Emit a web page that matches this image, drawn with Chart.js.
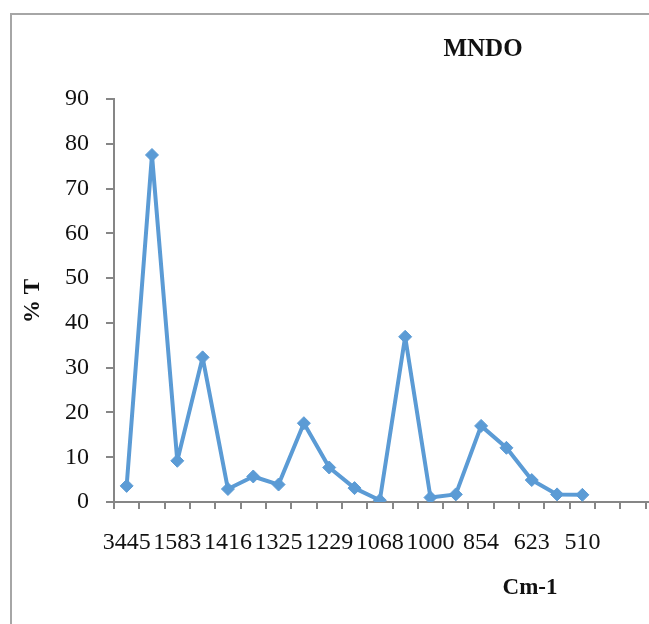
<!DOCTYPE html>
<html>
<head>
<meta charset="utf-8">
<title>MNDO</title>
<script src="https://cdn.jsdelivr.net/npm/chart.js@4/dist/chart.umd.min.js"></script>
<style>
	html, body { margin: 0; padding: 0; overflow: hidden; background: #fff; width: 649px; height: 624px; }
	.frame { position: absolute; left: 10px; top: 13px; width: 800px; height: 800px; border-left: 2px solid #a6a6a6; border-top: 2px solid #a6a6a6; }
	#irChart { position: absolute; left: 0; top: 0; }
</style>
</head>
<body>
<div class="frame"></div>
<canvas id="irChart" width="700" height="624"></canvas>
<script>
// wavenumbers, only every other one is printed on the axis
const wavenumbers = ['3445', '', '1583', '', '1416', '', '1325', '', '1229', '', '1068', '', '1000', '', '854', '', '623', '', '510', '', '', ''];
const transmittance = [3.6, 77.5, 9.2, 32.3, 2.9, 5.7, 3.9, 17.6, 7.7, 3.1, 0.4, 36.9, 1.0, 1.7, 17.0, 12.1, 4.9, 1.7, 1.6];
const yTicks = [0, 10, 20, 30, 40, 50, 60, 70, 80, 90];

const serif = '"Liberation Serif", "Times New Roman", serif';
const axisGrey = '#868686';
const lineBlue = '#5b9bd5';

// titles drawn by hand so they sit where the old spreadsheet put them
const titlesPlugin = {
	id: 'titles',
	afterDraw(chart) {
		const ctx = chart.ctx;
		ctx.save();
		ctx.fillStyle = '#111';
		ctx.textAlign = 'center';
		ctx.textBaseline = 'middle';
		ctx.font = 'bold 25px ' + serif;
		ctx.fillText('MNDO', 483, 50);
		ctx.font = 'bold 23px ' + serif;
		ctx.fillText('Cm-1', 530, 588);
		ctx.translate(33, 301);
		ctx.rotate(-Math.PI / 2);
		ctx.fillText('% T', 0, 0);
		ctx.restore();
	}
};

const ctx = document.getElementById('irChart').getContext('2d');
const chart = new Chart(ctx, {
	type: 'line',
	data: {
		labels: wavenumbers,
		datasets: [{
			data: transmittance,
			borderColor: lineBlue,
			backgroundColor: lineBlue,
			borderWidth: 4,
			borderJoinStyle: 'round',
			borderCapStyle: 'round',
			pointStyle: 'rectRot',
			pointRadius: 6.5,
			pointBorderWidth: 1,
			tension: 0
		}]
	},
	options: {
		responsive: false,
		animation: false,
		layout: {
			padding: { left: 0, right: 29, top: 99, bottom: 0 }
		},
		plugins: {
			legend: { display: false },
			tooltip: { enabled: false },
			title: { display: false }
		},
		scales: {
			x: {
				type: 'category',
				offset: true,
				grid: {
					offset: true,
					drawOnChartArea: false,
					drawTicks: true,
					tickLength: 7,
					color: axisGrey,
					lineWidth: 2
				},
				border: { display: true, color: axisGrey, width: 2 },
				ticks: {
					autoSkip: false,
					maxRotation: 0,
					minRotation: 0,
					padding: 19,
					color: '#111',
					font: { family: serif, size: 24 }
				},
				afterFit(scale) { scale.height = 122; }
			},
			y: {
				min: 0,
				max: 90,
				afterBuildTicks(scale) { scale.ticks = yTicks.map(v => ({ value: v })); },
				grid: {
					drawOnChartArea: false,
					drawTicks: true,
					tickLength: 8,
					color: axisGrey,
					lineWidth: 2
				},
				border: { display: true, color: axisGrey, width: 2 },
				ticks: {
					padding: 17,
					color: '#111',
					font: { family: serif, size: 24 }
				},
				afterFit(scale) { scale.width = 114; }
			}
		}
	},
	plugins: [titlesPlugin]
});
</script>
</body>
</html>
